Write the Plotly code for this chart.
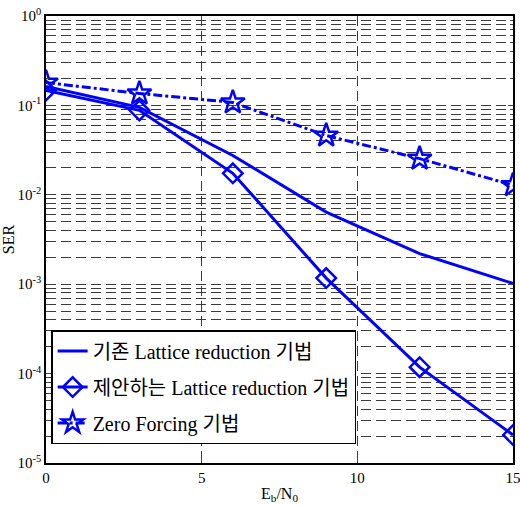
import plotly.graph_objects as go

x = [0, 3, 6, 9, 12, 15]
ser_lr = [0.163, 0.095, 0.0275, 0.0064, 0.0022, 0.00102]
ser_prop = [0.147, 0.088, 0.0174, 0.00117, 0.000118, 2.06e-5]
ser_zf = [0.18, 0.136, 0.108, 0.046, 0.0254, 0.0128]

names = ["기존 Lattice reduction 기법", "제안하는 Lattice reduction 기법", "Zero Forcing 기법"]
ytickvals = [1e-5, 1e-4, 1e-3, 1e-2, 1e-1, 1]
yticktext = ["10<sup>-5</sup>", "10<sup>-4</sup>", "10<sup>-3</sup>", "10<sup>-2</sup>", "10<sup>-1</sup>", "10<sup>0</sup>"]
xtickvals = [0, 5, 10, 15]

blue = "#0000ff"
grid = "#3a3a3a"
font_main = "Liberation Serif, Times New Roman, Noto Sans CJK KR, serif"

fig = go.Figure()
fig.add_trace(go.Scatter(x=x, y=ser_lr, mode="lines", name=names[0], legendgroup="a",
                         line=dict(color=blue, width=3)))
fig.add_trace(go.Scatter(x=x, y=ser_prop, mode="lines+markers", name=names[1], legendgroup="b",
                         line=dict(color=blue, width=3),
                         marker=dict(symbol="diamond-open", size=15, color=blue,
                                     line=dict(width=2.5, color=blue))))
fig.add_trace(go.Scatter(x=x, y=ser_zf, mode="lines+markers", name=names[2], legendgroup="c",
                         line=dict(color=blue, width=3, dash="dashdot"),
                         marker=dict(symbol="star-open", size=18, color=blue,
                                     line=dict(width=2.5, color=blue))))

fig.update_layout(
    width=520, height=505,
    margin=dict(l=46, r=7, t=16, b=42),
    plot_bgcolor="white", paper_bgcolor="white",
    font=dict(family=font_main, size=15, color="black"),
    showlegend=True,
    legend=dict(x=0.011, y=0.2975, xanchor="left", yanchor="top",
                bgcolor="white", bordercolor="black", borderwidth=1.5,
                font=dict(size=20, family=font_main), itemwidth=30,
                tracegroupgap=7),
)
fig.update_xaxes(range=[0, 15], tickvals=xtickvals, ticks="inside", ticklen=5,
                 showline=True, linecolor="black", linewidth=1.5, mirror="ticks",
                 showgrid=True, gridcolor=grid, griddash="10px,5px", gridwidth=1,
                 zeroline=False, automargin=False, ticklabeloverflow="allow",
                 title=dict(text="E<sub>b</sub>/N<sub>0</sub>", standoff=3,
                            font=dict(size=16)))
fig.update_yaxes(type="log", range=[-5, 0], tickvals=ytickvals, ticktext=yticktext,
                 ticks="inside", ticklen=5,
                 showline=True, linecolor="black", linewidth=1.5, mirror="ticks",
                 showgrid=True, gridcolor=grid, griddash="10px,5px", gridwidth=1,
                 minor=dict(dtick="D1", showgrid=True, gridcolor=grid,
                            griddash="10px,5px", gridwidth=1, ticks="inside", ticklen=3),
                 zeroline=False, automargin=False, ticklabeloverflow="allow",
                 title=dict(text="SER", standoff=4, font=dict(size=16)))

fig.write_html("out.html", config={"displayModeBar": False},
               post_script="document.body.style.margin='0';")
